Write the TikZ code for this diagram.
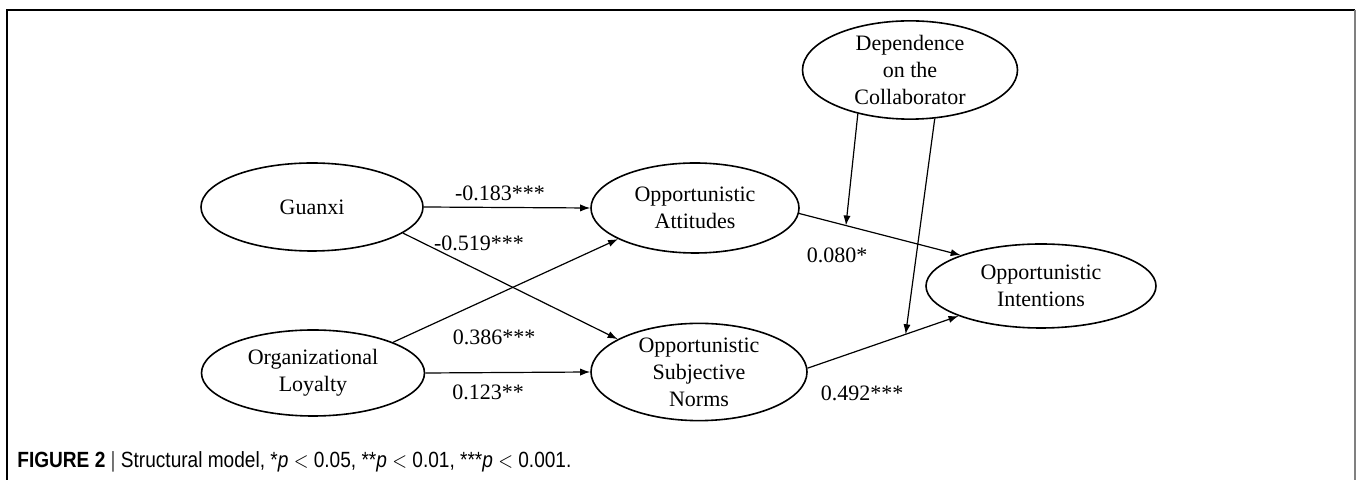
\documentclass[tikz,border=0pt]{standalone}
\usepackage{fontspec}
\setmainfont{Liberation Serif}
\newfontfamily\capfont{Liberation Sans}
\usetikzlibrary{shapes.geometric,arrows.meta}
\begin{document}
\begin{tikzpicture}[x=0.5pt,y=-0.5pt,
  latent/.style={ellipse,draw,line width=0.8pt,inner sep=0pt,align=center,
    font=\fontsize{11pt}{13.5pt}\selectfont},
  path/.style={line width=0.6pt,-{Latex[length=5pt,width=3.6pt]}},
  coef/.style={font=\fontsize{11pt}{13.5pt}\selectfont,inner sep=0pt}]
\useasboundingbox (0,0) rectangle (1357,480);
% frame
\draw[line width=0.6pt] (7,480) -- (7,10) -- (1355,10);
\draw[line width=1pt,gray] (1355,10) -- (1355,480);
% nodes
\node[latent,minimum width=111pt,minimum height=44pt] (G) at (312,207) {Guanxi};
\node[latent,minimum width=111.5pt,minimum height=43pt] (OL) at (313,373) {Organizational\\Loyalty};
\node[latent,minimum width=104pt,minimum height=45pt] (OA) at (695,208) {Opportunistic\\Attitudes};
\node[latent,minimum width=108pt,minimum height=44pt] (ON) at (699,372) {Opportunistic\\Subjective\\Norms};
\node[latent,minimum width=115pt,minimum height=42pt] (OI) at (1041,286) {Opportunistic\\Intentions};
\node[latent,minimum width=107.5pt,minimum height=45pt] (D) at (910,70) {Dependence\\on the\\Collaborator};
% paths
\draw[path] (G.east) -- (OA.west);
\draw[path] (OL.east) -- (ON.west);
\draw[path] (G.-16.5) -- (ON.158);
\draw[path] (OL.21.6) -- (OA.-158);
\draw[path] (OA.-3) -- (OI.159) coordinate[pos=0.29] (m1);
\draw[path] (ON.2) -- (OI.200) coordinate[pos=0.65] (m2);
\draw[path] (D.220) -- (m1);
\draw[path] (D.-63) -- (m2);
% coefficients
\node[coef] (c1) at (500,193) {-0.183***};
\node[coef] (c2) at (479,243) {-0.519***};
\node[coef] (c3) at (494,337) {0.386***};
\node[coef] (c4) at (488,392) {0.123**};
\node[coef] (c5) at (837,255) {0.080*};
\node[coef] (c6) at (862,393) {0.492***};
% caption
\node[anchor=west,inner sep=0pt] (cap) at (17,462) {\resizebox{277pt}{\height}{\capfont\fontsize{11pt}{13pt}\selectfont\textbf{FIGURE 2} \textcolor{black!70}{|} Structural model, *\textit{p} {$<$} 0.05, **\textit{p} {$<$} 0.01, ***\textit{p} {$<$} 0.001.}};
\end{tikzpicture}
\end{document}
